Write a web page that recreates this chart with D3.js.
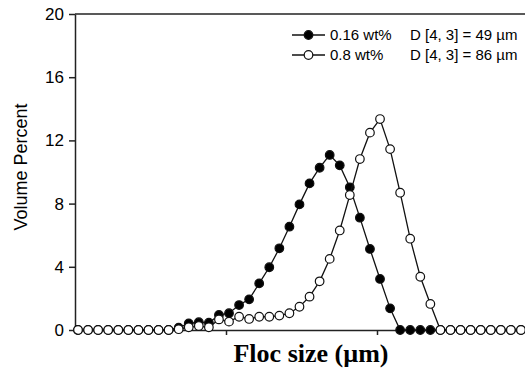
<!DOCTYPE html>
<html>
<head>
<meta charset="utf-8">
<script src="https://cdn.jsdelivr.net/npm/d3@7"></script>
<style>
  body { margin: 0; background: #fff; }
  svg { display: block; }
  .axis text { font-family: "Liberation Sans", Arial, sans-serif; font-size: 17px; fill: #000; }
  .axis path, .axis line { stroke: #222; stroke-width: 1.5; }
</style>
</head>
<body>
<div id="chart"></div>
<script>
// floc size bins (µm), log spaced
const sizes = [1.047, 1.221, 1.423, 1.659, 1.935, 2.256, 2.630, 3.066, 3.575, 4.168,
  4.860, 5.666, 6.606, 7.702, 8.980, 10.47, 12.21, 14.23, 16.59, 19.35,
  22.56, 26.30, 30.66, 35.75, 41.68, 48.60, 56.66, 66.06, 77.02, 89.80,
  104.7, 122.1, 142.3, 165.9, 193.5, 225.6, 263.0, 306.6, 357.5, 416.8,
  486.0, 566.6, 660.6, 770.2, 898.0]

// volume percent, 0.16 wt%
const low = [0, 0, 0, 0, 0, 0, 0, 0, 0, 0,
  0.15, 0.42, 0.49, 0.46, 0.95, 1.06, 1.58, 1.94, 2.95, 3.97,
  5.17, 6.54, 7.95, 9.28, 10.27, 11.08, 10.42, 9.03, 7.11, 5.13,
  3.23, 1.37, 0, 0, 0, 0, 0, 0, 0, 0,
  0, 0, 0, 0, 0]

// volume percent, 0.8 wt%
const high = [0, 0, 0, 0, 0, 0, 0, 0, 0, 0,
  0.05, 0.17, 0.25, 0.17, 0.67, 0.53, 0.84, 0.70, 0.84, 0.84,
  0.91, 1.06, 1.47, 2.11, 3.08, 4.50, 6.30, 8.54, 10.82, 12.49,
  13.35, 11.45, 8.69, 5.78, 3.37, 1.65, 0, 0, 0, 0,
  0, 0, 0, 0, 0]

const yTicks = [0, 4, 8, 12, 16, 20]
const xTicks = [10, 100]
const legendLabels = ['0.16 wt%', '0.8 wt%']
const legendD = ['D [4, 3] = 49 µm', 'D [4, 3] = 86 µm']

const dimensions = {
  width: 525,
  height: 369,
  margin: { top: 14, bottom: 39, left: 75, right: -3 }
}
dimensions.ctrWidth = dimensions.width - dimensions.margin.left - dimensions.margin.right
dimensions.ctrHeight = dimensions.height - dimensions.margin.top - dimensions.margin.bottom

const svg = d3.select('#chart')
  .append('svg')
  .attr('width', dimensions.width)
  .attr('height', dimensions.height)

const ctr = svg.append('g')
  .attr('transform', `translate(${dimensions.margin.left}, ${dimensions.margin.top})`)

const xScale = d3.scaleLog()
  .domain([1, 1000])
  .range([0, dimensions.ctrWidth])

const yScale = d3.scaleLinear()
  .domain([0, 20])
  .range([dimensions.ctrHeight, 0])

// frame: top and right
ctr.append('line')
  .attr('x1', 0).attr('x2', dimensions.ctrWidth)
  .attr('y1', 0).attr('y2', 0)
  .attr('stroke', '#222').attr('stroke-width', 1.5)
ctr.append('line')
  .attr('x1', dimensions.ctrWidth).attr('x2', dimensions.ctrWidth)
  .attr('y1', 0).attr('y2', dimensions.ctrHeight)
  .attr('stroke', '#222').attr('stroke-width', 1.5)

const xAxis = d3.axisBottom(xScale)
  .tickValues(xTicks)
  .tickSize(5)
  .tickSizeOuter(0)
  .tickFormat('')

ctr.append('g')
  .attr('transform', `translate(0, ${dimensions.ctrHeight})`)
  .call(xAxis)
  .classed('axis', true)

const yAxis = d3.axisLeft(yScale)
  .tickValues(yTicks)
  .tickSize(6)
  .tickSizeOuter(0)
  .tickPadding(5)

ctr.append('g')
  .call(yAxis)
  .classed('axis', true)

svg.append('text')
  .text('Volume Percent')
  .attr('transform', 'translate(21, 167) rotate(-90)')
  .attr('text-anchor', 'middle')
  .attr('dy', '0.35em')
  .style('font-family', '"Liberation Sans", Arial, sans-serif')
  .style('font-size', '18px')

svg.append('text')
  .text('Floc size (µm)')
  .attr('x', 311)
  .attr('y', 362)
  .attr('text-anchor', 'middle')
  .style('font-family', '"Liberation Serif", "Times New Roman", serif')
  .style('font-weight', 'bold')
  .style('font-size', '26px')

const line = d3.line()
  .x((d, i) => xScale(sizes[i]))
  .y(d => yScale(d))

const series = [
  { values: low, fill: '#000' },
  { values: high, fill: '#fff' }
]

series.forEach(s => {
  ctr.append('path')
    .datum(s.values)
    .attr('d', line)
    .attr('fill', 'none')
    .attr('stroke', '#111')
    .attr('stroke-width', 1.3)

  ctr.append('g')
    .selectAll('circle')
    .data(s.values)
    .join('circle')
    .attr('cx', (d, i) => xScale(sizes[i]))
    .attr('cy', d => yScale(d))
    .attr('r', 4.3)
    .attr('fill', s.fill)
    .attr('stroke', '#111')
    .attr('stroke-width', 1.2)
})

// legend
const legend = svg.append('g')
  .attr('transform', 'translate(292, 35)')

legendLabels.forEach((label, i) => {
  const row = legend.append('g')
    .attr('transform', `translate(0, ${i * 20})`)
  row.append('line')
    .attr('x1', 0).attr('x2', 33)
    .attr('stroke', '#111').attr('stroke-width', 1.3)
  row.append('circle')
    .attr('cx', 16.5)
    .attr('r', 4.3)
    .attr('fill', series[i].fill)
    .attr('stroke', '#111')
    .attr('stroke-width', 1.2)
  row.append('text')
    .text(label)
    .attr('x', 38)
    .attr('dy', '0.35em')
    .style('font-family', '"Liberation Sans", Arial, sans-serif')
    .style('font-size', '15px')
  row.append('text')
    .text(legendD[i])
    .attr('x', 118)
    .attr('dy', '0.35em')
    .style('font-family', '"Liberation Sans", Arial, sans-serif')
    .style('font-size', '15px')
})
</script>
</body>
</html>
